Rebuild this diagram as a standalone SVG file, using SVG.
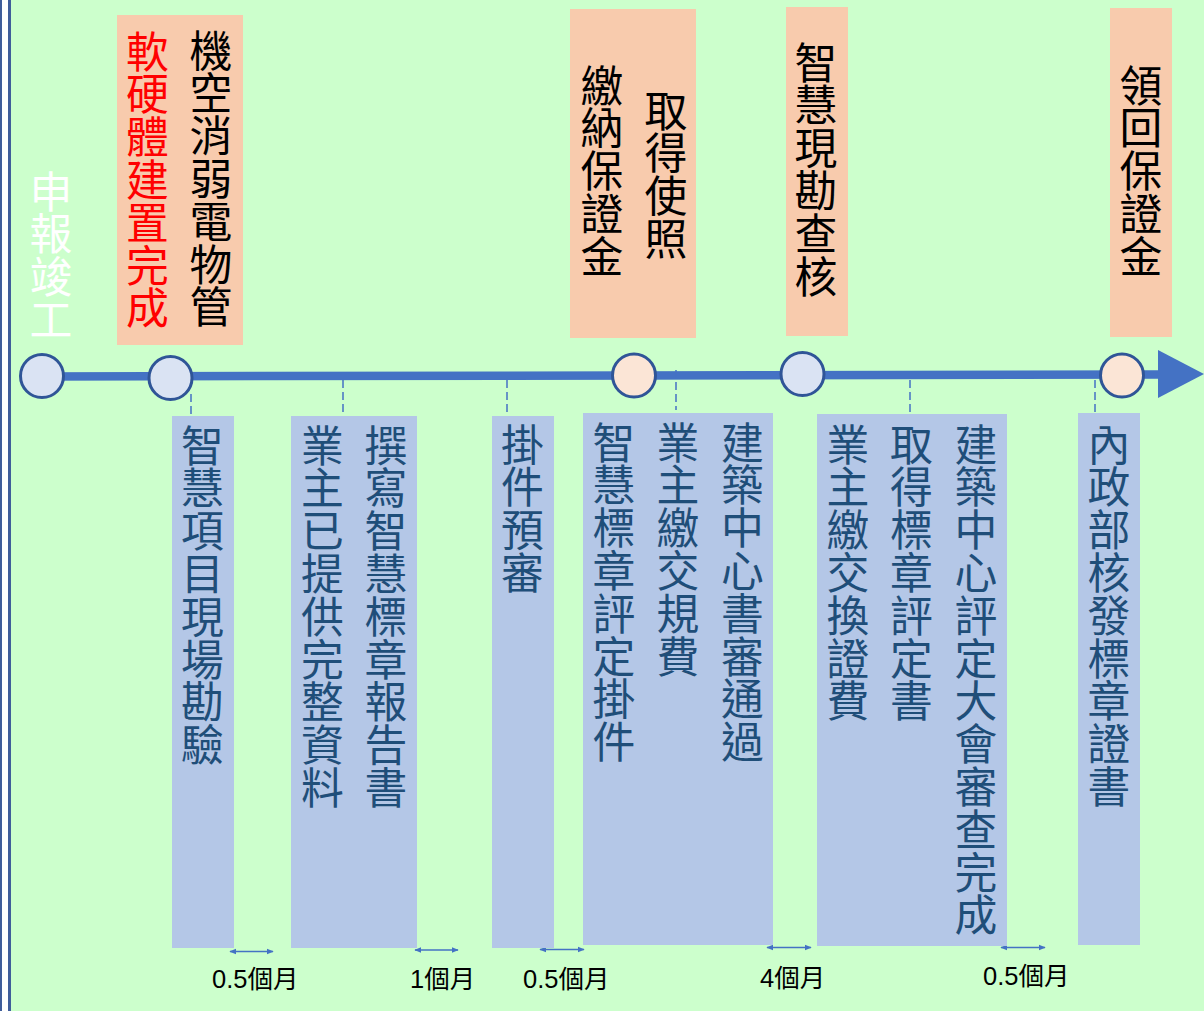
<svg xmlns="http://www.w3.org/2000/svg" width="1204" height="1011" viewBox="0 0 1204 1011">
<style>
.v{writing-mode:vertical-rl;font-family:"Noto Sans CJK TC","Noto Sans CJK SC",sans-serif;font-size:42.8px}
.top{fill:#000}
.bl{fill:#1F4E79}
.orange{fill:#F8CBAD}
.blue{fill:#B4C7E7}
.c{stroke:#2F5597;stroke-width:3}
.cb{fill:#DAE3F3}
.co{fill:#FBE5D6}
.dash{stroke:#4472C4;stroke-width:1.5;stroke-dasharray:8 4;fill:none}
.dur{stroke:#4472C4;stroke-width:1.5;fill:none;marker-start:url(#ah);marker-end:url(#ah)}
.lab{font-family:"Liberation Sans","Noto Sans CJK TC",sans-serif;font-size:25.5px;fill:#000}
</style>
<defs>
<marker id="ah" viewBox="0 0 10 10" refX="9" refY="5" markerWidth="7" markerHeight="7" markerUnits="userSpaceOnUse" orient="auto-start-reverse">
<path d="M0,1 L10,5 L0,9 Z" fill="#4472C4"/>
</marker>
</defs>
<rect x="0" y="0" width="1204" height="1011" fill="#CCFFCC"/>
<rect x="0" y="0" width="2" height="1011" fill="#3F5D9A"/>
<rect x="2" y="0" width="6" height="1011" fill="#FFFFFF"/>
<rect x="8" y="0" width="3" height="1011" fill="#3F5D9A"/>

<g id="connectors">
<line x1="42" y1="376.5" x2="1159" y2="374.5" stroke="#4472C4" stroke-width="8.5"/>
<polygon points="1158,350 1204,374 1158,398" fill="#4472C4"/>
<line class="dash" x1="191" y1="394" x2="191" y2="416"/>
<line class="dash" x1="343" y1="380" x2="343" y2="416"/>
<line class="dash" x1="507" y1="380" x2="507" y2="414"/>
<line class="dash" x1="676" y1="370" x2="676" y2="410"/>
<line class="dash" x1="910" y1="380" x2="910" y2="413"/>
<line class="dash" x1="1095" y1="380" x2="1095" y2="412"/>
<line class="dur" x1="230" y1="951.5" x2="273" y2="951.5"/>
<line class="dur" x1="415" y1="950" x2="458" y2="950"/>
<line class="dur" x1="540" y1="949.5" x2="584" y2="949.5"/>
<line class="dur" x1="767" y1="947.5" x2="811" y2="947.5"/>
<line class="dur" x1="1001" y1="947.5" x2="1045" y2="947.5"/>
</g>

<g id="milestone-1">
<circle class="c cb" cx="42" cy="376" r="21.5"/>
<text class="v" x="51" y="170" fill="#FFFFFF">申報竣工</text>
</g>
<g id="milestone-2">
<circle class="c cb" cx="170.5" cy="378" r="21.5"/>
<rect class="orange" x="117" y="15" width="126" height="330"/>
<text class="v" x="147.5" y="30" fill="#FF0000">軟硬體建置完成</text>
<text class="v top" x="211" y="29">機空消弱電物管</text>
</g>
<g id="milestone-3">
<circle class="c co" cx="634" cy="375.5" r="21.5"/>
<rect class="orange" x="570" y="9" width="126" height="329"/>
<text class="v top" x="602" y="64">繳納保證金</text>
<text class="v top" x="666" y="89">取得使照</text>
</g>
<g id="milestone-4">
<circle class="c cb" cx="802.5" cy="374" r="21.5"/>
<rect class="orange" x="786" y="7" width="62" height="329"/>
<text class="v top" x="816" y="41">智慧現勘查核</text>
</g>
<g id="milestone-5">
<circle class="c co" cx="1122" cy="375.5" r="21.5"/>
<rect class="orange" x="1110" y="8" width="62" height="329"/>
<text class="v top" x="1141" y="64">領回保證金</text>
</g>

<g id="step-1">
<rect class="blue" x="172" y="416" width="62" height="532"/>
<text class="v bl" x="202.5" y="424">智慧項目現場勘驗</text>
</g>
<g id="step-2">
<rect class="blue" x="291" y="416" width="126" height="532"/>
<text class="v bl" x="322.5" y="424">業主已提供完整資料</text>
<text class="v bl" x="386" y="424">撰寫智慧標章報告書</text>
</g>
<g id="step-3">
<rect class="blue" x="492" y="416" width="62" height="532"/>
<text class="v bl" x="522.5" y="423">掛件預審</text>
</g>
<g id="step-4">
<rect class="blue" x="583" y="413" width="190" height="532"/>
<text class="v bl" x="614" y="421">智慧標章評定掛件</text>
<text class="v bl" x="678" y="421">業主繳交規費</text>
<text class="v bl" x="742.5" y="421">建築中心書審通過</text>
</g>
<g id="step-5">
<rect class="blue" x="817" y="414" width="190" height="532"/>
<text class="v bl" x="848" y="423">業主繳交換證費</text>
<text class="v bl" x="911.5" y="423">取得標章評定書</text>
<text class="v bl" x="976" y="423">建築中心評定大會審查完成</text>
</g>
<g id="step-6">
<rect class="blue" x="1078" y="413" width="62" height="532"/>
<text class="v bl" x="1109" y="423">內政部核發標章證書</text>
</g>

<g id="durations">
<text class="lab" x="212" y="988">0.5個月</text>
<text class="lab" x="410" y="988">1個月</text>
<text class="lab" x="523" y="988">0.5個月</text>
<text class="lab" x="760" y="987">4個月</text>
<text class="lab" x="983" y="985">0.5個月</text>
</g>
</svg>
